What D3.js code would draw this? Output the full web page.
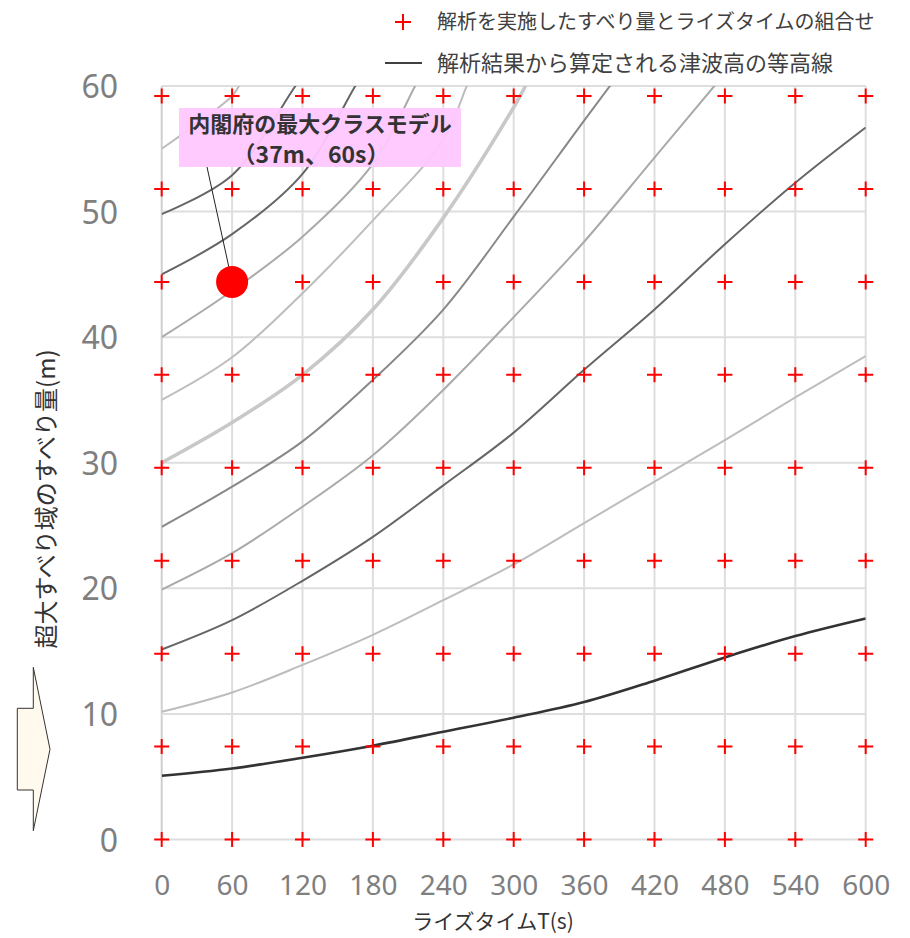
<!DOCTYPE html>
<html><head><meta charset="utf-8">
<script src="https://cdn.jsdelivr.net/npm/d3@7"></script>
<style>
html,body{margin:0;padding:0;background:#fff;}
svg{display:block;font-family:"Noto Sans CJK JP","Noto Sans",sans-serif;}
</style></head>
<body>
<svg id="chart" width="910" height="938"></svg>
<script>
// ---- data ----
const xTicks = [0,60,120,180,240,300,360,420,480,540,600];
const yTicks = [0,10,20,30,40,50,60];
const crossT = [0,60,120,180,240,300,360,420,480,540,600];
const crossSlip = [0,7.4,14.8,22.2,29.6,37,44.4,51.8,59.2];
const modelPoint = [60,44.4];
const legendLabels = ["解析を実施したすべり量とライズタイムの組合せ","解析結果から算定される津波高の等高線"];
const annotationLines = ["内閣府の最大クラスモデル","（37m、60s）"];
const xTitle = "ライズタイムT(s)";
const yTitle = "超大すべり域のすべり量(m)";

// contour lines: [T, slip] points
const c5  = [[0,5.08],[60,5.66],[120,6.51],[180,7.47],[240,8.58],[300,9.7],[360,10.95],[420,12.65],[480,14.5],[540,16.2],[600,17.6]];
const c10 = [[0,10.17],[60,11.71],[120,13.9],[180,16.3],[240,19.06],[300,21.9],[360,25.2],[420,28.5],[480,31.8],[540,35.2],[600,38.5]];
const c15 = [[0,15.13],[60,17.47],[120,20.6],[180,24.1],[240,28.2],[300,32.4],[360,37.4],[420,42.2],[480,47.4],[540,52.3],[600,56.7]];
const c20 = [[0,19.9],[60,22.8],[120,26.5],[180,30.6],[240,35.8],[300,41.6],[360,47.6],[420,54.3],[471,60],[480,61]];
const c25 = [[0,24.9],[60,28.1],[120,31.7],[180,36.6],[240,42.2],[300,49.6],[360,57.25],[382,60],[390,61]];
const c30 = [[0,30],[60,33.2],[120,37.0],[180,42.2],[240,49.5],[300,58.3],[310,60],[315,61]];
const c35 = [[0,35],[60,38.4],[120,43.5],[180,49.3],[240,55.7],[260,60],[265,61]];
const c40 = [[0,40],[60,43.7],[120,48.0],[180,53.8],[216,60],[222,61]];
const c45 = [[0,45],[60,48.2],[120,53.0],[165,60],[172,61]];
const c50 = [[0,49.8],[60,52.9],[114,60],[122,61]];
const c55 = [[0,55],[60,59.2],[66,60],[75,61]];
const contours = [
  {pts:c5,  color:"#333333", w:2.6},
  {pts:c10, color:"#bdbdbd", w:2},
  {pts:c15, color:"#666666", w:2},
  {pts:c20, color:"#aaaaaa", w:2},
  {pts:c25, color:"#888888", w:2},
  {pts:c30, color:"#c8c8c8", w:3.6},
  {pts:c35, color:"#bdbdbd", w:2},
  {pts:c40, color:"#aaaaaa", w:2},
  {pts:c45, color:"#666666", w:2},
  {pts:c50, color:"#666666", w:2},
  {pts:c55, color:"#bdbdbd", w:2}
];

// ---- scales ----
const svg = d3.select("#chart");
const x = d3.scaleLinear().domain([0,600]).range([161.7,865.7]);
const y = d3.scaleLinear().domain([0,60]).range([839.5,86]);

svg.append("defs").append("clipPath").attr("id","plotclip")
  .append("rect").attr("x",x(0)).attr("y",y(60)).attr("width",x(600)-x(0)).attr("height",y(0)-y(60));

// gridlines
const grid = svg.append("g");
grid.selectAll("line.v").data(xTicks).join("line")
  .attr("x1",d=>x(d)).attr("x2",d=>x(d)).attr("y1",y(0)).attr("y2",y(60))
  .attr("stroke",d=>d===0?"#cfcfcf":"#dedede").attr("stroke-width",2);
grid.selectAll("line.h").data(yTicks).join("line")
  .attr("y1",d=>y(d)).attr("y2",d=>y(d)).attr("x1",x(0)).attr("x2",x(600))
  .attr("stroke","#dedede").attr("stroke-width",2);

// contour lines
const line = d3.line().x(d=>x(d[0])).y(d=>y(d[1])).curve(d3.curveCatmullRom.alpha(0.5));
svg.append("g").attr("clip-path","url(#plotclip)")
  .selectAll("path").data(contours).join("path")
  .attr("d",d=>line(d.pts)).attr("fill","none")
  .attr("stroke",d=>d.color).attr("stroke-width",d=>d.w);

// crosses
const crosses = [];
crossSlip.forEach(s=>crossT.forEach(t=>crosses.push([t,s])));
const cs = 7.5;
const cg = svg.append("g").attr("stroke","#ff0000").attr("stroke-width",2);
cg.selectAll("path").data(crosses).join("path")
  .attr("d",d=>`M${x(d[0])-cs},${y(d[1])}H${x(d[0])+cs}M${x(d[0])},${y(d[1])-cs}V${y(d[1])+cs}`);

// axis labels
const xAxis = d3.axisBottom(x).tickValues(xTicks).tickSize(0).tickPadding(0).tickFormat(d3.format("d"));
const gx = svg.append("g").attr("transform",`translate(0,${y(0)})`).call(xAxis);
gx.select(".domain").remove();
gx.selectAll("text").attr("dy",null).attr("y",55).attr("fill","#7f7f7f")
  .style("font-size","28px").style("font-family","'Noto Sans','Liberation Sans',sans-serif");

const yAxis = d3.axisLeft(y).tickValues(yTicks).tickSize(0).tickPadding(0).tickFormat(d3.format("d"));
const gy = svg.append("g").attr("transform",`translate(118,0)`).call(yAxis);
gy.select(".domain").remove();
gy.selectAll("text").attr("x",0).attr("dy","0.36em").attr("fill","#7f7f7f")
  .style("font-size","32px").style("font-family","'Noto Sans','Liberation Sans',sans-serif");

// axis titles
svg.append("text").attr("x",493).attr("y",929).attr("text-anchor","middle")
  .attr("fill","#333").style("font-size","21px").text(xTitle);
svg.append("text").attr("transform","translate(55,499) rotate(-90)").attr("text-anchor","middle")
  .attr("fill","#333").style("font-size","24px").text(yTitle);

// arrow shape on left
const arrowPts = [[17.3,708.3],[33.3,708.3],[33.3,667.3],[50,749.3],[33.3,830.7],[33.3,790],[17.3,790]];
svg.append("polygon").attr("points",arrowPts.map(p=>p.join(",")).join(" "))
  .attr("fill","#fff9ee").attr("stroke","#333").attr("stroke-width",1);

// legend
svg.append("path").attr("d","M395,22H411M403,14V30").attr("stroke","#ff0000").attr("stroke-width",2);
svg.append("line").attr("x1",385).attr("x2",422).attr("y1",63).attr("y2",63).attr("stroke","#404040").attr("stroke-width",2);
svg.selectAll("text.leg").data(legendLabels).join("text").attr("class","leg")
  .attr("x",437).attr("y",(d,i)=>29+i*42).attr("fill","#404040")
  .style("font-size",(d,i)=>i===0?"20px":"22px").text(d=>d);

// annotation
svg.append("rect").attr("x",179).attr("y",108).attr("width",282).attr("height",59)
  .attr("fill","#ffc8ff").attr("opacity",0.95);
svg.selectAll("text.ann").data(annotationLines).join("text").attr("class","ann")
  .attr("x",(d,i)=>i===0?320:311).attr("y",(d,i)=>i===0?132:163).attr("text-anchor","middle")
  .attr("fill","#333").style("font-size",(d,i)=>i===0?"22px":"23px").style("font-weight","bold").text(d=>d);
svg.append("line").attr("x1",207).attr("y1",167).attr("x2",x(modelPoint[0])).attr("y2",y(modelPoint[1]))
  .attr("stroke","#222").attr("stroke-width",1);
svg.append("circle").attr("cx",x(modelPoint[0])).attr("cy",y(modelPoint[1])).attr("r",16).attr("fill","#ff0000");
</script>
</body></html>
